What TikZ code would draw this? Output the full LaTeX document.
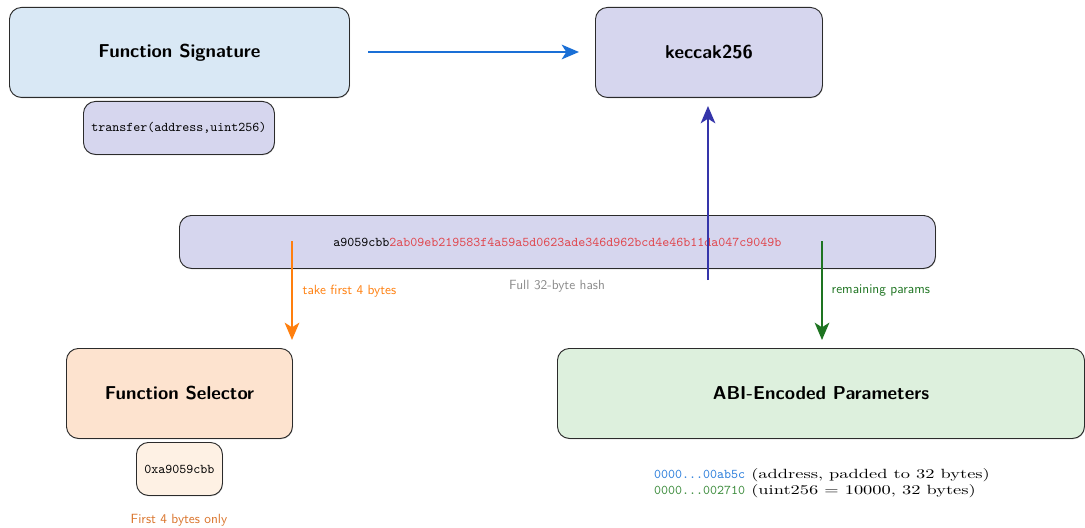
\documentclass[tikz,border=0pt]{standalone}
\usepackage{fontspec}
\usetikzlibrary{arrows.meta,shadows}
% wide roman face for the parameter annotations
\newfontfamily\widerm{Latin Modern Roman}[FakeStretch=1.38]
\definecolor{sigfill}{HTML}{D9E8F5}
\definecolor{lavfill}{HTML}{D6D6EE}
\definecolor{selfill}{HTML}{FDE3CF}
\definecolor{hexfill}{HTML}{FEF1E4}
\definecolor{abifill}{HTML}{DDF0DD}
\definecolor{edge}{HTML}{2B2B2B}
\definecolor{arrblue}{HTML}{1A6FD6}
\definecolor{arrindigo}{HTML}{3535AA}
\definecolor{arrorange}{HTML}{FF7F0E}
\definecolor{arrgreen}{HTML}{1E7421}
\definecolor{hashred}{HTML}{E0454C}
\definecolor{notegray}{HTML}{8A8A8A}
\definecolor{notebrown}{HTML}{D9732A}
\definecolor{parblue}{HTML}{2A7DDB}
\definecolor{pargreen}{HTML}{3A8A3A}
\begin{document}
\begin{tikzpicture}[x=0.75pt,y=-0.75pt,
  box/.style={draw=edge,line width=0.7pt,rounded corners=9pt,inner sep=0pt,anchor=north west,
    drop shadow={opacity=0.35,shadow xshift=0.4pt,shadow yshift=-0.6pt}},
  title/.style={font=\sffamily\bfseries\fontsize{14}{17}\selectfont},
  code/.style={font=\ttfamily},
  flow/.style={line width=1.5pt,-{Stealth[length=13pt,width=11pt,inset=3.5pt]}},
  note/.style={font=\sffamily\normalsize}]
\useasboundingbox (0,0) rectangle (1085,528);

% top row: signature and hash function
\node[box,fill=sigfill,minimum width=255pt,minimum height=67.5pt] (sig) at (9,7) {};
\node[title] at (sig.center) {Function Signature};
\node[box,fill=lavfill,minimum width=143.25pt,minimum height=39.75pt] (sigtxt) at (83,101) {};
\node[code] at (sigtxt.center) {transfer(address,uint256)};

\node[box,fill=lavfill,minimum width=170.25pt,minimum height=67.5pt] (kec) at (595,7) {};
\node[title] at (kec.center) {keccak256};

% full hash output
\node[box,fill=lavfill,minimum width=567pt,minimum height=39.75pt] (hash) at (179,215) {};
\node[code] (hashtxt) at (hash.center) {a9059cbb\textcolor{hashred}{2ab09eb219583f4a59a5d0623ade346d962bcd4e46b11da047c9049b}};
\node[note,text=notegray] (hashnote) at (557,286) {Full 32-byte hash};

% bottom row: selector and parameters
\node[box,fill=selfill,minimum width=169.5pt,minimum height=67.5pt] (sel) at (66,348) {};
\node[title] at (sel.center) {Function Selector};
\node[box,fill=hexfill,minimum width=64.5pt,minimum height=39.75pt] (selhex) at (136,442) {};
\node[code] at (selhex.center) {0xa9059cbb};
\node[note,text=notebrown] (selnote) at (179,520) {First 4 bytes only};

\node[box,fill=abifill,minimum width=395.25pt,minimum height=67.5pt] (abi) at (557,348) {};
\node[title] at (abi.center) {ABI-Encoded Parameters};
\node[align=left,inner sep=0pt,font=\widerm\fontsize{10}{12}\selectfont] (abitxt) at (822,483)
  {\textcolor{parblue}{\ttfamily 0000...00ab5c} (address, padded to 32 bytes)\\
   \textcolor{pargreen}{\ttfamily 0000...002710} (uint256 = 10000, 32 bytes)};

% connectors
\coordinate (sigout) at (368,52);
\coordinate (kecin) at (579,52);
\draw[flow,arrblue] (sigout) -- (kecin);

\coordinate (hashup) at (708,280);
\coordinate (kecbot) at (708,106);
\draw[flow,arrindigo] (hashup) -- (kecbot);

\coordinate (selsrc) at (292,241);
\coordinate (seldst) at (292,340);
\draw[flow,arrorange] (selsrc) -- (seldst);
\node[note,text=arrorange,anchor=west] (sellbl) at (298,291) {take first 4 bytes};

\coordinate (abisrc) at (822,241);
\coordinate (abidst) at (822,340);
\draw[flow,arrgreen] (abisrc) -- (abidst);
\node[note,text=arrgreen,anchor=west] (abilbl) at (827,291) {remaining params};
\end{tikzpicture}
\end{document}
